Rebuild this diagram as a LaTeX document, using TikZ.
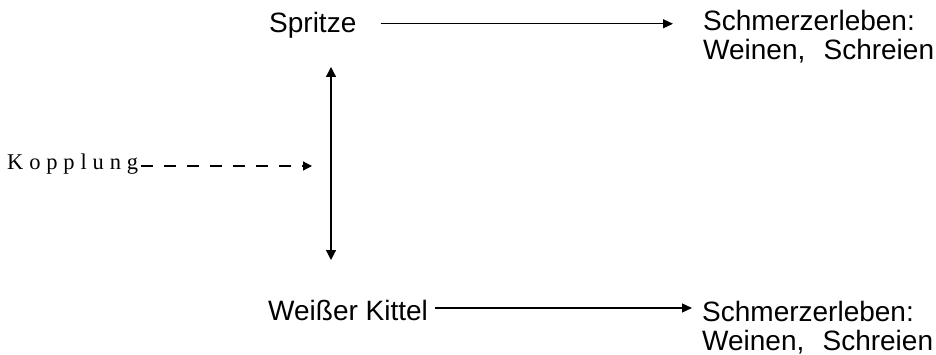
\documentclass[tikz,border=0pt]{standalone}
\usepackage{fontspec}
\setmainfont{Liberation Sans}
\newfontfamily\kfont[LetterSpace=26]{Liberation Serif}
\usetikzlibrary{arrows.meta}
\begin{document}
\begin{tikzpicture}[x=1pt,y=-1pt,
  lbl/.style={inner sep=0pt,anchor=base west,font=\fontsize{28}{29}\selectfont},
  rlbl/.style={lbl,align=left},
  arr/.style={line width=1.2pt,-{Triangle[width=9pt,length=10pt]}},
  dbl/.style={line width=1.2pt,{Triangle[width=10pt,length=10pt]}-{Triangle[width=10pt,length=10pt]}},
  darr/.style={line width=1.2pt,dash pattern=on 12pt off 11pt,-{Triangle[width=9pt,length=9pt]}}]
\useasboundingbox (0,0) rectangle (936,355);
\node[lbl] (spr) at (269,33) {Spritze};
\node[rlbl] (s1) at (703,60) {Schmerzerleben:\\Weinen,\hspace{0.65em}Schreien};
\node[lbl] (wk) at (268,320) {Weißer Kittel};
\node[rlbl] (s2) at (702,350) {Schmerzerleben:\\Weinen,\hspace{0.65em}Schreien};
\node[inner sep=0pt,anchor=base west,font=\fontsize{22.5}{23}\selectfont\kfont] (kop) at (7,170) {Kopplung};
\coordinate (top) at (331,67);
\coordinate (bot) at (331,260);
\coordinate (mid) at (331,166);
\draw[arr,shorten <=24pt,shorten >=30pt] (spr.east) ++(0,-2) coordinate (a1) -- (a1 -| s1.west);
\draw[arr,shorten <=7pt,shorten >=10pt] ([yshift=2pt]wk.east) coordinate (a2) -- (a2 -| s2.west);
\draw[dbl] (top) -- (bot);
\draw[darr,shorten >=19pt] ([xshift=3pt]kop.east |- mid) -- (mid);
\end{tikzpicture}
\end{document}
